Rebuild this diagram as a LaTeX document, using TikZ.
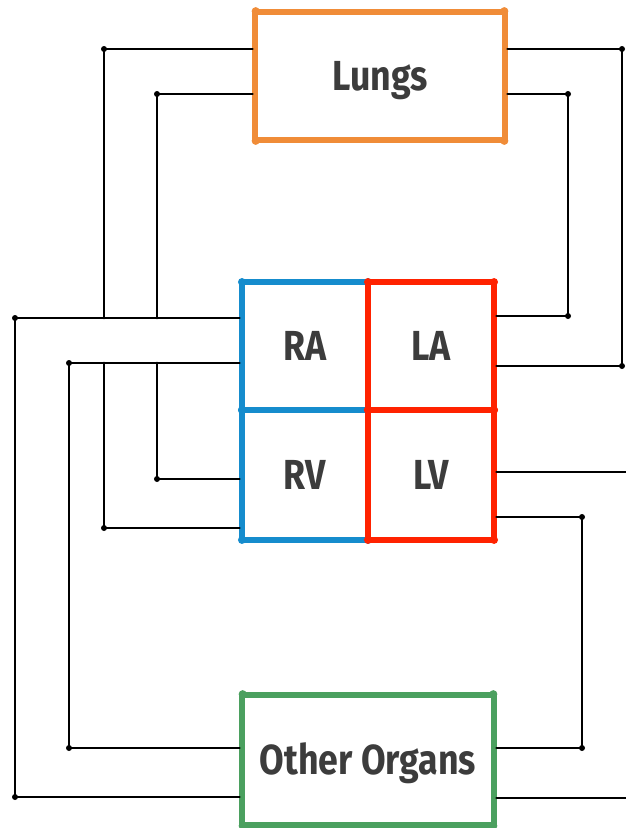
\documentclass[tikz,border=0pt]{standalone}
\usepackage{fontspec}
\usetikzlibrary{calc}
\newfontfamily\handfont{Fira Sans}[FakeStretch=0.85]
\definecolor{cOrange}{HTML}{F08C38}
\definecolor{cBlue}{HTML}{158CCD}
\definecolor{cRed}{HTML}{FF2200}
\definecolor{cGreen}{HTML}{4BA05F}
\definecolor{cText}{HTML}{3C3C3C}
\begin{document}
\begin{tikzpicture}[x=1pt,y=-1pt,
  box/.style={draw=#1, line width=5.2pt, line join=round, inner sep=0pt,
    text=cText, font=\handfont\bfseries\fontsize{42}{42}\selectfont,
    text height=29pt, text depth=0pt},
  conn/.style={draw=black, line width=2.9pt, line cap=round, line join=round}]
\useasboundingbox (0,0) rectangle (626,828);
\clip (0,0) rectangle (626,828);

\node[box=cOrange, minimum width=250pt, minimum height=128pt] (lungs) at (380,76) {Lungs};
\node[box=cBlue, minimum width=126pt, minimum height=128pt] (ra) at (305,346) {RA};
\node[box=cBlue, minimum width=126pt, minimum height=130pt] (rv) at (305,475) {RV};
\foreach \n in {ra,rv}
  \foreach \a in {north west,north east,south west,south east}
    \fill[cBlue] ($(\n.\a)!3.7pt!(\n.center)$) circle (4pt);
\node[box=cRed, minimum width=126pt, minimum height=128pt] (la) at (431,346) {LA};
\node[box=cRed, minimum width=126pt, minimum height=130pt] (lv) at (431,475) {LV};
\foreach \n in {la,lv}
  \foreach \a in {north west,north east,south west,south east}
    \fill[cRed] ($(\n.\a)!3.7pt!(\n.center)$) circle (4pt);
\node[box=cGreen, minimum width=252pt, minimum height=130pt] (other) at (368,760) {Other Organs};
\foreach \n/\c in {lungs/cOrange,other/cGreen}
  \foreach \a in {north west,north east,south west,south east}
    \fill[\c] ($(\n.\a)!3.7pt!(\n.center)$) circle (4pt);

% pulmonary arteries: RV -> Lungs
\draw[conn] (rv.west |- 0,479) -- (157,479) -- (157,363)
            (157,318) -- (157,94) -- (lungs.west |- 0,94);
\draw[conn] (rv.west |- 0,528) -- (104,528) -- (104,363)
            (104,318) -- (104,49) -- (lungs.west |- 0,49);
% veins: Other Organs -> RA
\draw[conn] (ra.west |- 0,318) -- (15,318) -- (15,797) -- (other.west |- 0,797);
\draw[conn] (ra.west |- 0,363) -- (69,363) -- (69,748) -- (other.west |- 0,748);
% pulmonary veins: Lungs -> LA
\draw[conn] (lungs.east |- 0,49) -- (622,49) -- (622,366) -- (la.east |- 0,366);
\draw[conn] (lungs.east |- 0,94) -- (568,94) -- (568,316) -- (la.east |- 0,316);
% aorta: LV -> Other Organs
\draw[conn] (lv.east |- 0,517) -- (582,517) -- (582,748) -- (other.east |- 0,748);
\draw[conn] (lv.east |- 0,472) -- (660,472) -- (660,798) -- (other.east |- 0,798);

\foreach \p in {(157,479),(157,94),(104,528),(104,49),(15,318),(15,797),
                (69,363),(69,748),(622,49),(622,366),(568,94),(568,316),
                (582,517),(582,748)}
  \fill \p circle (3pt);
\end{tikzpicture}
\end{document}
